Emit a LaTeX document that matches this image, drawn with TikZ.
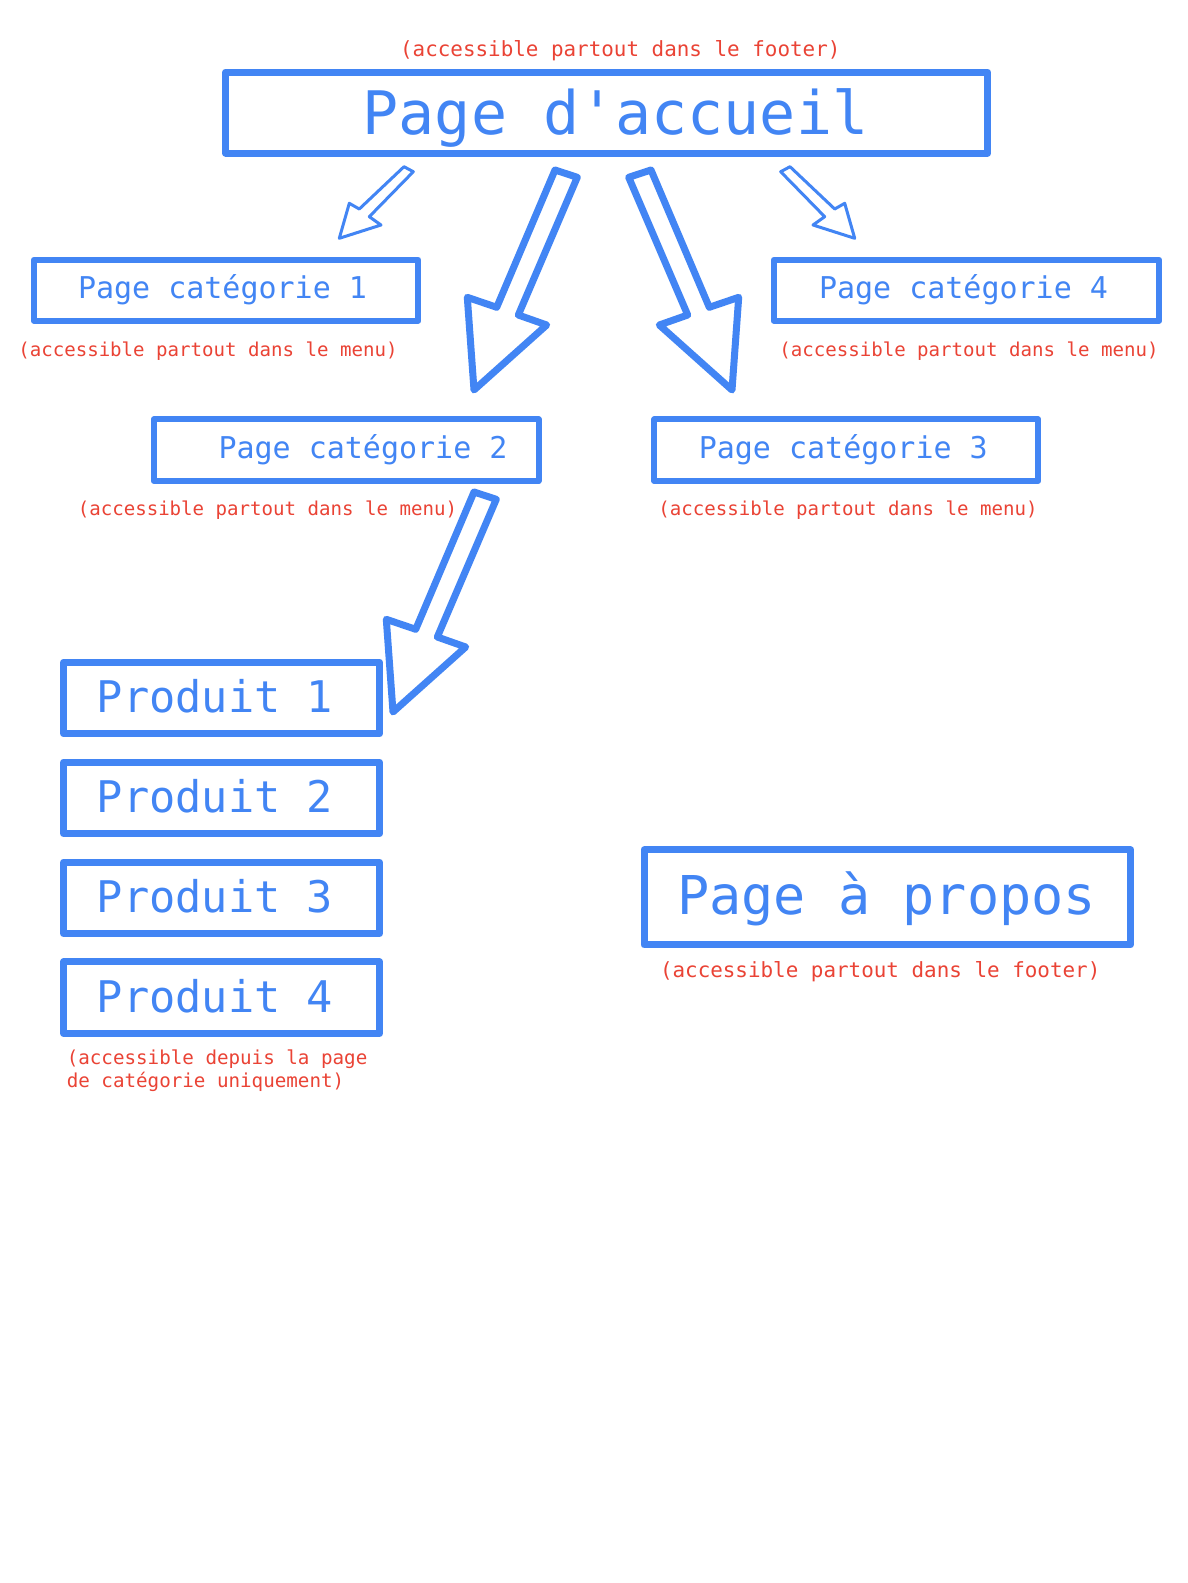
\documentclass[tikz,border=0pt]{standalone}
\usepackage{fontspec}
\newfontfamily\monofont{DejaVu Sans Mono}
\definecolor{gblue}{HTML}{4285F4}
\definecolor{gred}{HTML}{EA4335}
\tikzset{
  box/.style={draw=gblue, line join=round, inner sep=0pt, fill=none},
  blocka/.style={draw=gblue, line width=7pt, line join=round},
  thina/.style={draw=gblue, line width=3pt, line join=round},
  btext/.style={text=gblue, inner sep=0pt, anchor=base},
  rtext/.style={text=gred, inner sep=0pt, anchor=base},
}
\begin{document}
\begin{tikzpicture}[x=1pt,y=-1pt]
\useasboundingbox[fill=white] (0,0) rectangle (1187,1583);

% boxes
\node[box, line width=7pt, minimum width=762pt, minimum height=81pt] (acc) at (606.6,112.5) {};
\node[box, line width=6pt, minimum width=384.6pt, minimum height=60.6pt] (c1) at (226.1,290.2) {};
\node[box, line width=6pt, minimum width=385.6pt, minimum height=60.6pt] (c4) at (966.5,290.2) {};
\node[box, line width=6pt, minimum width=384.6pt, minimum height=61.6pt] (c2) at (346.2,450.2) {};
\node[box, line width=6pt, minimum width=383.7pt, minimum height=61.6pt] (c3) at (846.3,450.2) {};
\node[box, line width=7pt, minimum width=316pt, minimum height=71.5pt] (p1) at (221.6,698) {};
\node[box, line width=7pt, minimum width=316pt, minimum height=71.5pt] (p2) at (221.6,797.9) {};
\node[box, line width=7pt, minimum width=316pt, minimum height=71.5pt] (p3) at (221.6,897.8) {};
\node[box, line width=7pt, minimum width=316pt, minimum height=71.5pt] (p4) at (221.6,997.7) {};
\node[box, line width=7pt, minimum width=486.6pt, minimum height=95pt] (ap) at (887.3,897.4) {};

% blue texts
\node[btext, font=\monofont\fontsize{60}{60}\selectfont] (tacc) at (615.5,134.2) {Page d'accueil};
\node[btext, font=\monofont\fontsize{30}{30}\selectfont] (tc1) at (222.5,298.5) {Page catégorie 1};
\node[btext, font=\monofont\fontsize{30}{30}\selectfont] (tc4) at (963.5,298.5) {Page catégorie 4};
\node[btext, font=\monofont\fontsize{30}{30}\selectfont] (tc2) at (363,458.3) {Page catégorie 2};
\node[btext, font=\monofont\fontsize{30}{30}\selectfont] (tc3) at (843.3,458.3) {Page catégorie 3};
\node[btext, font=\monofont\fontsize{43.6}{43.6}\selectfont] (tp1) at (215,712.6) {Produit 1};
\node[btext, font=\monofont\fontsize{43.6}{43.6}\selectfont] (tp2) at (215,812.5) {Produit 2};
\node[btext, font=\monofont\fontsize{43.6}{43.6}\selectfont] (tp3) at (215,912.4) {Produit 3};
\node[btext, font=\monofont\fontsize{43.6}{43.6}\selectfont] (tp4) at (215,1012.3) {Produit 4};
\node[btext, font=\monofont\fontsize{53.5}{53.5}\selectfont] (tap) at (886.5,914.5) {Page à propos};

% red labels
\node[rtext, font=\monofont\fontsize{20.9}{20.9}\selectfont] (lacc) at (620.3,56.5) {(accessible partout dans le footer)};
\node[rtext, font=\monofont\fontsize{19.1}{19.1}\selectfont] (lc1) at (208,356.3) {(accessible partout dans le menu)};
\node[rtext, font=\monofont\fontsize{19.1}{19.1}\selectfont] (lc4) at (969,356.3) {(accessible partout dans le menu)};
\node[rtext, font=\monofont\fontsize{19.1}{19.1}\selectfont] (lc2) at (267.5,515.8) {(accessible partout dans le menu)};
\node[rtext, font=\monofont\fontsize{19.1}{19.1}\selectfont] (lc3) at (848,515.8) {(accessible partout dans le menu)};
\node[rtext, font=\monofont\fontsize{20.9}{20.9}\selectfont] (lap) at (880.2,977) {(accessible partout dans le footer)};
\node[text=gred, inner sep=0pt, anchor=north west, align=left, font=\monofont\fontsize{19.2}{23}\selectfont] (lp) at (66.6,1049.5) {(accessible depuis la page\\de catégorie uniquement)};

% block arrows
\draw[thina] (404,166.7) -- (413.3,171.7) -- (369.3,216.7) -- (381,225) -- (339.3,238.3) -- (349.3,203.3) -- (359.3,209) -- cycle;
\draw[thina] (790,166.7) -- (780.7,171.7) -- (824.7,216.7) -- (813,225) -- (854.7,238.3) -- (844.7,203.3) -- (834.7,209) -- cycle;
\draw[blocka] (555,170) -- (577.3,177.3) -- (518.3,315) -- (546.7,325) -- (474,390) -- (467.3,297.3) -- (496.7,307.3) -- cycle;
\draw[blocka] (651,170) -- (628.7,177.3) -- (687.7,315) -- (659.3,325) -- (732,390) -- (738.7,297.3) -- (709.3,307.3) -- cycle;
\draw[blocka] (474,492) -- (496.3,499.3) -- (437.3,637) -- (465.7,647) -- (393,712) -- (386.3,619.3) -- (415.7,629.3) -- cycle;
\end{tikzpicture}
\end{document}
